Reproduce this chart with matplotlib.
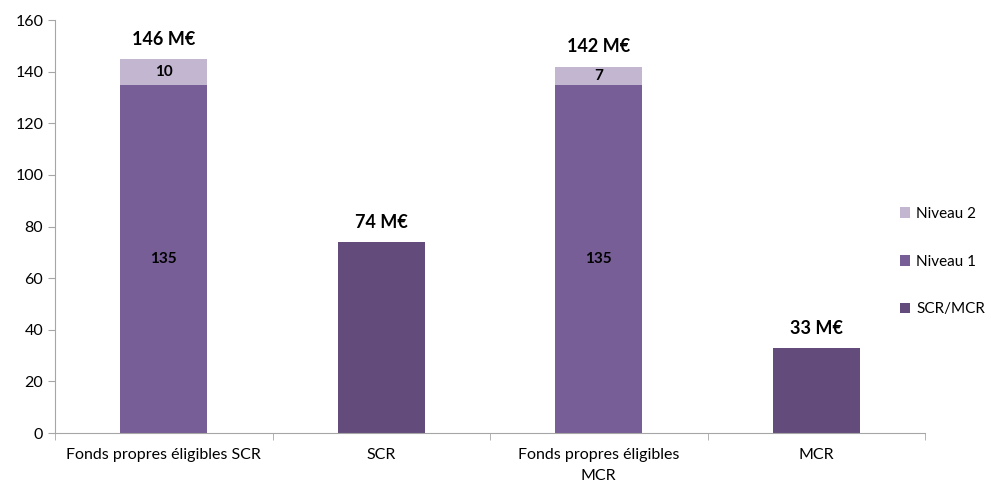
import matplotlib
matplotlib.use('Agg')
import matplotlib.pyplot as plt
import numpy as np

plt.rcParams['font.family'] = ['Lato', 'DejaVu Sans']

# categories and stacked values (M€)
categories = ['Fonds propres éligibles SCR', 'SCR', 'Fonds propres éligibles\nMCR', 'MCR']
niveau1 = [135, 0, 135, 0]
niveau2 = [10, 0, 7, 0]
scr_mcr = [0, 74, 0, 33]
totals_txt = ['146 M€', '74 M€', '142 M€', '33 M€']

c_n2 = '#C3B6D1'
c_n1 = '#775E97'
c_req = '#634C7B'
grey = '#A6A6A6'

fig = plt.figure(figsize=(9.91, 4.83), dpi=100)
ax = fig.add_axes([0.0555, 0.1035, 0.878, 0.855])

x = np.arange(len(categories))
w = 0.4
b_req = ax.bar(x, scr_mcr, w, color=c_req, label='SCR/MCR')
b_n1 = ax.bar(x, niveau1, w, color=c_n1, label='Niveau 1')
b_n2 = ax.bar(x, niveau2, w, bottom=niveau1, color=c_n2, label='Niveau 2')

# segment values inside the stacked bars
for i in range(len(categories)):
    if niveau1[i]:
        ax.text(x[i], niveau1[i] / 2, str(niveau1[i]), ha='center', va='center',
                fontsize=11, fontweight='bold', color='black')
    if niveau2[i]:
        ax.text(x[i], niveau1[i] + niveau2[i] / 2, str(niveau2[i]), ha='center',
                va='center', fontsize=11, fontweight='bold', color='black')
    top = niveau1[i] + niveau2[i] + scr_mcr[i]
    ax.annotate(totals_txt[i], (x[i], top), xytext=(0, 8), textcoords='offset points',
                ha='center', va='bottom', fontsize=13, fontweight='bold', color='black')

ax.set_xlim(-0.5, len(categories) - 0.5)
ax.set_ylim(0, 160)
ax.set_yticks(range(0, 161, 20))
ax.set_xticks(x)
ax.set_xticklabels(categories, fontsize=11.5, linespacing=1.6)
ax.set_xticks(np.arange(-0.5, len(categories)), minor=True)
ax.tick_params(axis='x', which='major', length=0, pad=11)
ax.tick_params(axis='x', which='minor', length=5, color=grey)
ax.tick_params(axis='y', length=5, color=grey, labelsize=11.5)

for s in ['top', 'right']:
    ax.spines[s].set_visible(False)
for s in ['left', 'bottom']:
    ax.spines[s].set_color(grey)

handles = [b_n2, b_n1, b_req]
ax.legend(handles, [h.get_label() for h in handles], loc='center left',
          bbox_to_anchor=(0.955, 0.415), frameon=False, fontsize=11,
          labelspacing=2.2, handlelength=0.7, handleheight=0.7, handletextpad=0.4)

fig.savefig('out.png', dpi=100)
